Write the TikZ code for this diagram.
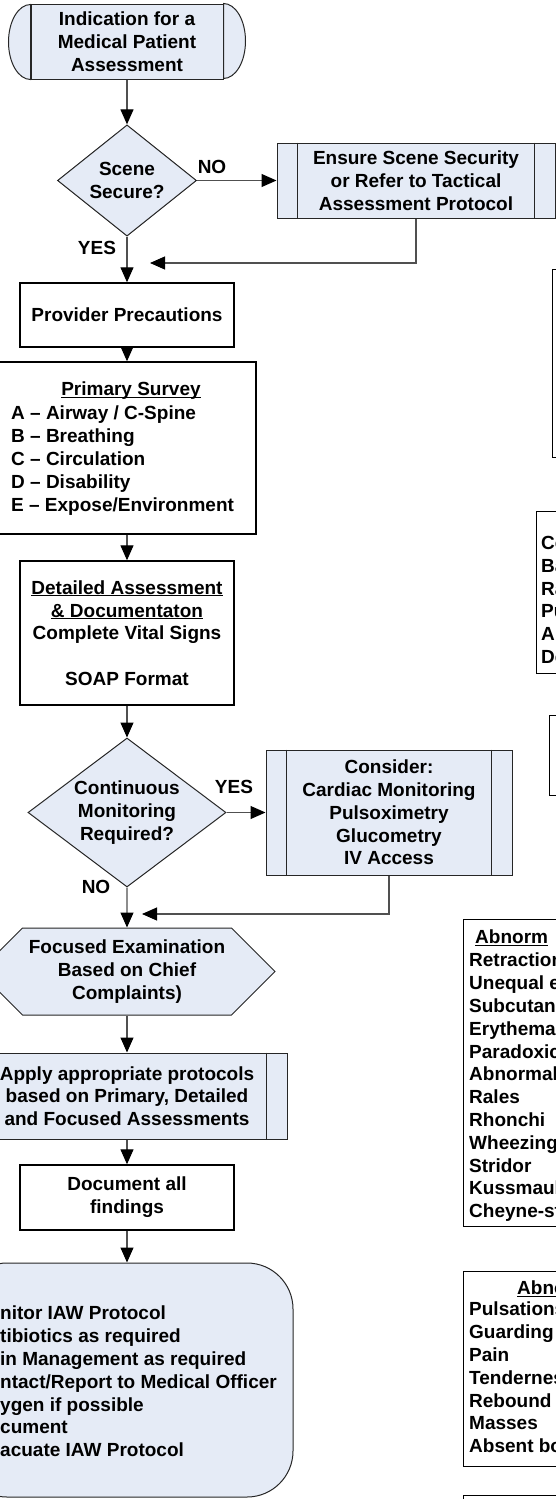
\documentclass[tikz,border=0pt]{standalone}
\usepackage{fontspec}
\setmainfont{Liberation Sans}
\usetikzlibrary{shapes.geometric,shapes.symbols,arrows.meta}

\definecolor{boxblue}{RGB}{229,235,246}
\definecolor{linegray}{RGB}{80,80,80}

\newsavebox{\ulsave}
\newcommand{\ulbox}[1]{\sbox{\ulsave}{#1}\rlap{\rule[-2.2pt]{\wd\ulsave}{1.1pt}}\usebox{\ulsave}}

\begin{document}
\begin{tikzpicture}[
        x=1pt, y=-1pt,
        font=\fontsize{19}{22.8}\selectfont\bfseries,
        whitebox/.style={rectangle, draw=black, line width=1.4pt, fill=white, align=center, inner sep=0pt},
        bluebox/.style={rectangle, draw=black!85, line width=1pt, fill=boxblue, align=center, inner sep=0pt},
        decision/.style={diamond, draw=black!85, line width=1pt, fill=boxblue, align=center, inner sep=0pt},
        sidebox/.style={rectangle, draw=black, line width=1.4pt, anchor=north west, minimum width=300pt},
        listtext/.style={anchor=north west, align=left, inner sep=0pt},
        answer/.style={inner sep=0pt},
        flow/.style={draw=linegray, line width=1.1pt, -{Triangle[length=15pt, width=13pt, color=black]}},
        ]

        \useasboundingbox (0,0) rectangle (556,1499);
        \clip (0,0) rectangle (556,1499);

        % Start
        \node[bluebox, minimum width=192pt, minimum height=75pt] (start) at (127,41.5)
            {Indication for a\\Medical Patient\\Assessment};
        \filldraw[fill=boxblue, draw=black!85, line width=1pt]
            (start.north east) arc[start angle=90, end angle=-90, x radius=22pt, y radius=37.5pt] -- cycle;
        \filldraw[fill=boxblue, draw=black!85, line width=1pt]
            (start.south west) arc[start angle=-90, end angle=-270, x radius=22pt, y radius=37.5pt] -- cycle;

        % Scene check
        \node[decision, minimum width=139pt, minimum height=105pt] (secure) at (127,180.5) {Scene\\Secure?};
        \node[bluebox, minimum width=278pt, minimum height=75pt] (ensure) at (416,180.5)
            {Ensure Scene Security\\or Refer to Tactical\\Assessment Protocol};
        \coordinate (join1) at (150,263);

        % Surveys
        \node[whitebox, minimum width=214pt, minimum height=64pt] (provider) at (127,315) {Provider Precautions};
        \node[whitebox, minimum width=258pt, minimum height=172pt] (primary) at (127,448) {};
        \node[answer] (primarytitle) at (131,391) {\ulbox{Primary Survey}};
        \node[listtext] (primarylist) at (11,406)
            {A -- Airway / C-Spine\\B -- Breathing\\C -- Circulation\\D -- Disability\\E -- Expose/Environment};
        \node[whitebox, minimum width=214pt, minimum height=144pt] (detailed) at (127,633)
            {\ulbox{Detailed Assessment}\\\ulbox{\& Documentaton}\\Complete Vital Signs\\[22.8pt]SOAP Format};

        % Monitoring
        \node[decision, aspect=1.33, minimum width=198pt, minimum height=149pt] (monitor) at (127,812.5)
            {Continuous\\Monitoring\\Required?};
        \node[bluebox, minimum width=246pt, minimum height=125pt] (consider) at (389,812.5)
            {Consider:\\Cardiac Monitoring\\Pulsoximetry\\Glucometry\\IV Access};
        \coordinate (join2) at (142,914);

        % Focused part
        \node[bluebox, signal, signal to=east and west, signal pointer angle=90,
              minimum width=296pt, minimum height=87pt] (focused) at (127,971.5)
            {Focused Examination\\Based on Chief\\Complaints)};
        \node[bluebox, minimum width=320pt, minimum height=86pt] (apply) at (127,1096)
            {Apply appropriate protocols\\based on Primary, Detailed\\and Focused Assessments};
        \node[whitebox, minimum width=214pt, minimum height=65pt] (document) at (127,1197.5)
            {Document all\\findings};
        \node[bluebox, rounded corners=46pt, minimum width=332pt, minimum height=234pt] (care) at (127,1380) {};
        \node[listtext] (caretext) at (0,1306)
            {nitor IAW Protocol\\tibiotics as required\\in Management as required\\ntact/Report to Medical Officer\\ygen if possible\\cument\\acuate IAW Protocol};

        % Side bars of the process boxes
        \foreach \n in {ensure,consider,apply} {
            \draw[black!85, line width=1pt] ([xshift=21pt]\n.north west) -- ([xshift=21pt]\n.south west)
                ([xshift=-21pt]\n.north east) -- ([xshift=-21pt]\n.south east);
        }

        % Right hand boxes
        \node[sidebox, minimum height=188pt] (side1) at (552,269) {};
        \node[sidebox, minimum height=162pt] (side2) at (536,511) {};
        \node[listtext] (side2text) at (541,536) {Co\\Ba\\Ra\\Pu\\Al\\De};
        \node[sidebox, minimum height=80pt] (side3) at (549,715) {};
        \node[sidebox, minimum height=307pt] (side4) at (463,919) {};
        \node[listtext] (side4title) at (475,930) {\ulbox{Abnorm}};
        \node[listtext] (side4text) at (469,953)
            {Retraction\\Unequal e\\Subcutane\\Erythema\\Paradoxic\\Abnormal\\Rales\\Rhonchi\\Wheezing\\Stridor\\Kussmaul\\Cheyne-st};
        \node[sidebox, minimum height=195pt] (side5) at (463,1271) {};
        \node[listtext] (side5title) at (517,1281) {\ulbox{Abno}};
        \node[listtext] (side5text) at (469,1302)
            {Pulsations\\Guarding\\Pain\\Tenderness\\Rebound\\Masses\\Absent bo};
        \node[sidebox, minimum height=100pt] (side6) at (463,1495) {};

        % Answers
        \node[answer] (no1) at (212,167) {NO};
        \node[answer] (yes1) at (97,248) {YES};
        \node[answer] (yes2) at (234,787) {YES};
        \node[answer] (no2) at (96,887) {NO};

        % Arrows
        \draw[flow] (start) -- (secure);
        \draw[flow] (secure) -- (ensure);
        \draw[flow] (secure) -- (provider);
        \draw[flow] (ensure.south) |- (join1);
        \draw[flow] (provider) -- (primary);
        \draw[flow] (primary) -- (detailed);
        \draw[flow] (detailed) -- (monitor);
        \draw[flow] (monitor) -- (consider);
        \draw[flow] (monitor) -- (focused);
        \draw[flow] (consider.south) |- (join2);
        \draw[flow] (focused) -- (apply);
        \draw[flow] (apply) -- (document);
        \draw[flow] (document) -- (care);

    \end{tikzpicture}
\end{document}
